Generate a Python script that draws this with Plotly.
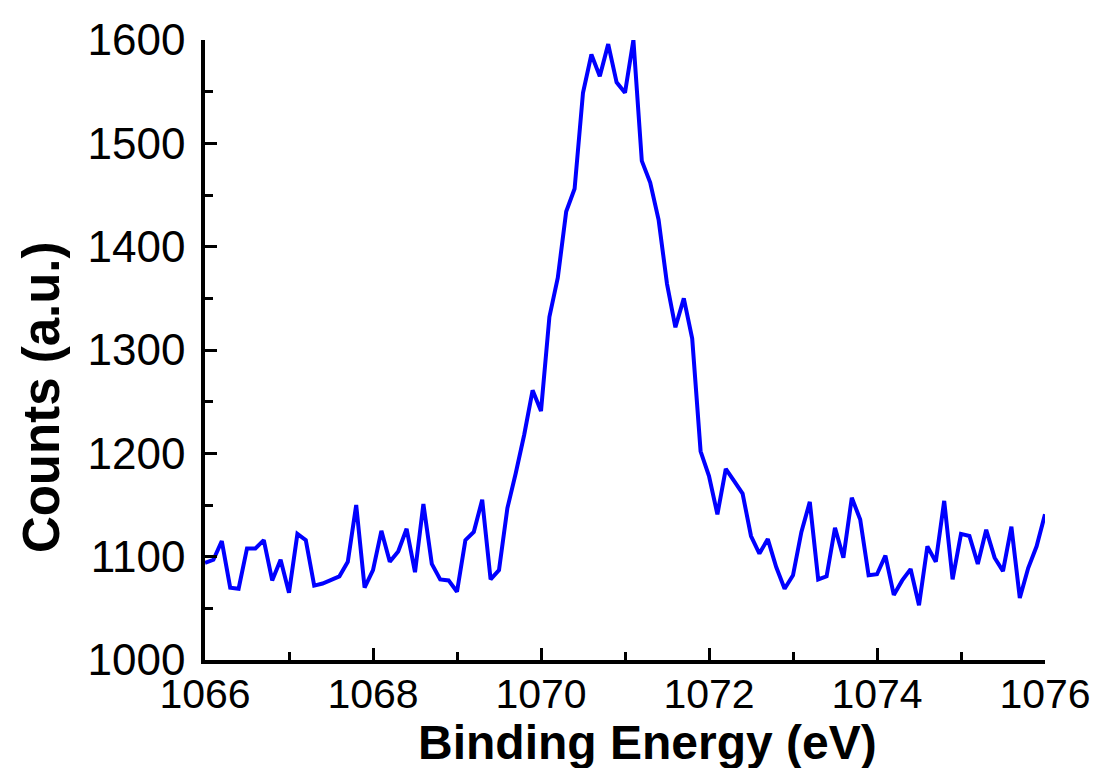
import plotly.graph_objects as go

energy_ev = [
    1066.0, 1066.1, 1066.2, 1066.3, 1066.4, 1066.5, 1066.6, 1066.7, 1066.8, 1066.9,
    1067.0, 1067.1, 1067.2, 1067.3, 1067.4, 1067.5, 1067.6, 1067.7, 1067.8, 1067.9,
    1068.0, 1068.1, 1068.2, 1068.3, 1068.4, 1068.5, 1068.6, 1068.7, 1068.8, 1068.9,
    1069.0, 1069.1, 1069.2, 1069.3, 1069.4, 1069.5, 1069.6, 1069.7, 1069.8, 1069.9,
    1070.0, 1070.1, 1070.2, 1070.3, 1070.4, 1070.5, 1070.6, 1070.7, 1070.8, 1070.9,
    1071.0, 1071.1, 1071.2, 1071.3, 1071.4, 1071.5, 1071.6, 1071.7, 1071.8, 1071.9,
    1072.0, 1072.1, 1072.2, 1072.3, 1072.4, 1072.5, 1072.6, 1072.7, 1072.8, 1072.9,
    1073.0, 1073.1, 1073.2, 1073.3, 1073.4, 1073.5, 1073.6, 1073.7, 1073.8, 1073.9,
    1074.0, 1074.1, 1074.2, 1074.3, 1074.4, 1074.5, 1074.6, 1074.7, 1074.8, 1074.9,
    1075.0, 1075.1, 1075.2, 1075.3, 1075.4, 1075.5, 1075.6, 1075.7, 1075.8, 1075.9,
    1076.0,
]

counts = [
    1094, 1097, 1115, 1070, 1069, 1108, 1108, 1116, 1077, 1097,
    1065, 1122, 1116, 1072, 1074, 1077, 1081, 1095, 1150, 1070,
    1087, 1125, 1095, 1105, 1127, 1085, 1151, 1093, 1078, 1077,
    1066, 1116, 1124, 1155, 1078, 1087, 1147, 1181, 1218, 1261,
    1241, 1332, 1370, 1434, 1456, 1549, 1586, 1565, 1596, 1559,
    1549, 1600, 1483, 1462, 1426, 1364, 1322, 1350, 1311, 1202,
    1178, 1141, 1185, 1173, 1161, 1120, 1103, 1117, 1090, 1069,
    1082, 1124, 1153, 1078, 1081, 1128, 1099, 1157, 1136, 1082,
    1083, 1101, 1063, 1077, 1088, 1053, 1110, 1095, 1154, 1078,
    1122, 1120, 1093, 1126, 1099, 1086, 1129, 1060, 1089, 1110,
    1141,
]

x_ticks = [1066, 1068, 1070, 1072, 1074, 1076]
y_ticks = [1000, 1100, 1200, 1300, 1400, 1500, 1600]

FONT = "Liberation Sans, Arial, sans-serif"

fig = go.Figure()
fig.add_trace(go.Scatter(
    x=energy_ev, y=counts, mode="lines",
    line=dict(color="#0000FF", width=4),
    showlegend=False,
))

axis_common = dict(
    showline=True, linecolor="black", linewidth=3.5,
    ticks="inside", tickcolor="black", tickwidth=2.5, ticklen=12,
    showgrid=False, zeroline=False, mirror=False,
)

fig.update_layout(
    width=1105, height=768,
    margin=dict(l=205, r=60, t=40, b=108),
    paper_bgcolor="white", plot_bgcolor="white",
    font=dict(family=FONT, color="black"),
    xaxis=dict(
        range=[1066, 1076], tickvals=x_ticks,
        ticktext=[str(v) for v in x_ticks],
        tickfont=dict(size=41, family=FONT),
        ticklabelstandoff=-5,
        minor=dict(dtick=1, tick0=1066, ticks="inside", ticklen=8,
                   tickwidth=2.5, tickcolor="black", showgrid=False),
        **axis_common,
    ),
    yaxis=dict(
        range=[1000, 1600], tickvals=y_ticks,
        ticktext=[str(v) for v in y_ticks],
        tickfont=dict(size=44, family=FONT),
        ticklabelstandoff=7,
        minor=dict(dtick=50, tick0=1000, ticks="inside", ticklen=8,
                   tickwidth=2.5, tickcolor="black", showgrid=False),
        **axis_common,
    ),
    annotations=[
        dict(text="<b>Binding Energy (eV)</b>", xref="paper", yref="paper",
             x=0.527, y=0, xanchor="center", yanchor="middle", yshift=-82,
             showarrow=False,
             font=dict(size=48, family=FONT, color="black")),
        dict(text="<b>Counts (a.u.)</b>", xref="paper", yref="paper",
             x=0, y=0.424, xanchor="center", yanchor="middle", xshift=-164,
             textangle=-90, showarrow=False,
             font=dict(size=51, family=FONT, color="black")),
    ],
)

fig.write_html("out.html")
